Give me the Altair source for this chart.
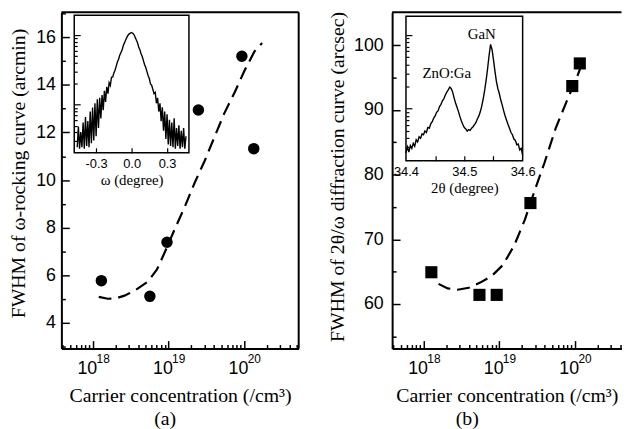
import altair as alt
import numpy as np
import pandas as pd

# ----------------------------- data -----------------------------
# panel (a): omega-rocking-curve FWHM
conc_a = [1.3e18, 5.7e18, 9.6e18, 2.5e19, 9.4e19, 1.35e20]
fwhm_a = [5.78, 5.12, 7.39, 12.94, 15.2, 11.32]
fit_conc_a = [1.2e18, 1.58e18, 2.0e18, 2.63e18, 3.63e18, 5.37e18, 7.08e18, 8.91e18,
              1.2e19, 1.66e19, 2.24e19, 3.02e19, 4.07e19, 5.5e19, 7.59e19, 1.02e20,
              1.38e20, 1.74e20]
fit_fwhm_a = [5.10, 5.02, 5.03, 5.15, 5.37, 5.74, 6.25, 6.95, 7.9, 8.9, 9.9, 10.8,
              11.8, 12.8, 13.7, 14.6, 15.4, 15.75]

# panel (b): 2theta/omega FWHM
conc_b = [1.27e18, 5.5e18, 9.3e18, 2.6e19, 9.3e19, 1.17e20]
fwhm_b = [64.9, 61.4, 61.4, 75.6, 93.7, 97.2]
fit_conc_b = [1.58e18, 2.09e18, 2.82e18, 3.98e18, 5.62e18, 7.94e18, 1.12e19, 1.58e19,
              2.19e19, 2.95e19, 3.98e19, 5.62e19, 7.94e19, 1.05e20, 1.32e20]
fit_fwhm_b = [63.1, 62.4, 62.2, 62.5, 63.3, 64.3, 66.0, 69.0, 73.0, 77.5, 81.8, 87.2,
              91.5, 94.8, 97.9]

# inset (a): rocking curve, omega from -0.46 in 0.01 steps (arb. units)
omega_start, omega_step = -0.46, 0.01
rocking_int = [0.4, 1.9, 0.3, 1.5, 0.4, 2.2, 0.3, 2.6, 0.5, 2.3, 0.4, 3.0, 0.7, 3.3, 0.9,
               3.6, 1.2, 3.9, 1.8, 4.0, 2.5, 4.2, 3.1, 4.5, 3.7, 4.8, 4.3, 5.1, 4.9, 5.5,
               5.5, 5.8, 6.0, 6.3, 6.6, 6.8, 7.1, 7.3, 7.5, 7.8, 8.0, 8.2, 8.4, 8.55, 8.65,
               8.7, 8.75, 8.7, 8.6, 8.4, 8.2, 8.0, 7.7, 7.5, 7.2, 7.0, 6.7, 6.4, 6.2, 5.9,
               5.6, 5.4, 5.0, 4.9, 4.6, 4.3, 4.4, 3.6, 4.0, 3.0, 3.6, 2.3, 3.3, 1.6, 3.0,
               1.0, 2.8, 0.6, 2.4, 0.5, 2.2, 0.4, 2.5, 0.3, 1.8, 0.5, 2.0, 0.3, 1.6, 0.4,
               1.8, 0.3, 1.2]

# inset (b): 2theta scan from 34.4 in 0.0025 steps (arb. units)
tt_start, tt_step = 34.4, 0.0025
xrd_int = [0.55, 0.95, 0.60, 1.05, 0.85, 1.20, 1.00, 1.45, 1.30, 1.65, 1.55, 1.85, 1.80,
           2.05, 1.95, 2.30, 2.25, 2.55, 2.70, 2.95, 3.10, 3.35, 3.45, 3.75, 3.90, 4.15,
           4.30, 4.55, 4.75, 4.90, 5.10, 5.00, 4.75, 4.35, 4.00, 3.70, 3.40, 3.05, 2.75,
           2.50, 2.30, 2.20, 2.05, 2.15, 2.10, 2.25, 2.35, 2.50, 2.65, 2.90, 3.10, 3.40,
           3.80, 4.30, 4.90, 5.60, 6.40, 7.30, 8.05, 7.70, 7.00, 6.20, 5.50, 5.00, 4.65,
           4.20, 3.85, 3.45, 3.10, 2.80, 2.50, 2.25, 1.95, 1.80, 1.50, 1.40, 1.10, 1.15,
           0.75, 0.85, 0.40]

# axis label text pieces
decade_values = [1e18, 1e19, 1e20]
decade_exponents = ["18", "19", "20"]

# ----------------------------- layout constants -----------------------------
SANS = "Liberation Sans"
SERIF = "Liberation Serif"
H = 340
W_A, W_B = 240, 232
XDOM_A = [10 ** 17.585, 10 ** 20.725]
XDOM_B = [10 ** 17.585, 10 ** 20.62]
YDOM_A = [2.93, 17.04]
YDOM_B = [53.1, 105.1]

one = pd.DataFrame({"k": [0]})

EXP_EXPR = ("datum.value < 3e18 ? '%s' : (datum.value < 3e19 ? '%s' : '%s')"
            % tuple(decade_exponents))


def cond(test, big, small):
    return {"condition": {"test": test, "value": big}, "value": small}


def log_ticks(dom):
    out = []
    for d in range(16, 22):
        for k in range(1, 10):
            v = float(k) * 10.0 ** d
            if dom[0] <= v <= dom[1]:
                out.append(v)
    return out


def inset_log_ticks(bases, span):
    out = []
    for b in bases:
        for k in range(1, 10):
            v = round(b + span * np.log10(k), 3)
            if 0.05 < v < 9.95:
                out.append(float(v))
    return out


LOGMAJ = "abs(log(datum.value)/LN10 - round(log(datum.value)/LN10)) < 0.01"


def panel(conc, fwhm, fconc, ffwhm, W, xdom, ydom, ylabels, yticks, ytest, ytitle,
          ytx, yty, ylp, shape, size, right_border, inset):
    pts_df = pd.DataFrame({"conc": conc, "fwhm": fwhm})
    fit_df = pd.DataFrame({"conc": fconc, "fwhm": ffwhm})

    xs = alt.Scale(type="log", domain=xdom, nice=False)
    ys = alt.Scale(domain=ydom, nice=False, zero=False)

    xaxis = alt.Axis(values=decade_values, labelExpr="'10'", labelOffset=-6,
                     ticks=False, domain=True, domainColor="black", domainWidth=2,
                     labelFont=SANS, labelFontSize=18, labelColor="black", labelPadding=11,
                     labelFlush=False, labelOverlap=False, grid=False,
                     title="Carrier concentration (/cm\u00b3)", titleFont=SERIF, titleFontSize=20,
                     titleFontWeight="normal", titleColor="black", titlePadding=9, zindex=1)
    yaxis = alt.Axis(values=ylabels, ticks=False, domain=True, domainColor="black",
                     domainWidth=2, labelFont=SANS, labelFontSize=18, labelColor="black",
                     labelPadding=ylp, grid=False, title=ytitle, titleFont=SERIF,
                     titleFontSize=20, titleFontWeight="normal", titleColor="black",
                     titleX=ytx, titleY=yty, zindex=1)

    pts = alt.Chart(pts_df).mark_point(shape=shape, filled=True, size=size, color="black",
                                       opacity=1).encode(
        x=alt.X("conc:Q", scale=xs, axis=xaxis),
        y=alt.Y("fwhm:Q", scale=ys, axis=yaxis))
    fit = alt.Chart(fit_df).mark_line(color="black", strokeWidth=2.2,
                                      strokeDash=[13, 7]).encode(
        x=alt.X("conc:Q", scale=xs, axis=xaxis),
        y=alt.Y("fwhm:Q", scale=ys, axis=yaxis))
    top = alt.Chart(one).mark_rule(color="black", strokeWidth=2).encode(
        y=alt.YDatum(ydom[1], axis=yaxis))
    main_layers = [pts, fit, top]
    if right_border:
        main_layers.append(alt.Chart(one).mark_rule(color="black", strokeWidth=2).encode(
            x=alt.XDatum(xdom[1], axis=xaxis)))
    main = alt.layer(*main_layers)

    # inward ticks: top-oriented x axis moved to the bottom edge, right-oriented y axis
    # moved to the left edge
    ticks = alt.Chart(pts_df).mark_point(opacity=0).encode(
        x=alt.X("conc:Q", scale=alt.Scale(type="log", domain=xdom, nice=False),
                axis=alt.Axis(orient="top", offset=-H, values=log_ticks(xdom), labels=False,
                              domain=False, ticks=True, tickColor="black", tickWidth=1.5,
                              tickSize=cond(LOGMAJ, 8, 4), title=None, grid=False, zindex=1)),
        y=alt.Y("fwhm:Q", scale=alt.Scale(domain=ydom, nice=False, zero=False),
                axis=alt.Axis(orient="right", offset=-W, values=yticks, labels=False,
                              domain=False, ticks=True, tickColor="black", tickWidth=1.5,
                              tickSize=cond(ytest, 8, 4), title=None, grid=False, zindex=1)))

    # exponent (superscript) labels
    sup = alt.Chart(pts_df).mark_point(opacity=0).encode(
        x=alt.X("conc:Q", scale=alt.Scale(type="log", domain=xdom, nice=False),
                axis=alt.Axis(orient="bottom", values=decade_values, labelExpr=EXP_EXPR,
                              labelOffset=10, ticks=False, domain=False, labelFont=SANS,
                              labelFontSize=12, labelColor="black", labelPadding=5,
                              labelFlush=False, labelOverlap=False, title=None, grid=False,
                              zindex=1)),
        y=alt.Y("fwhm:Q", scale=alt.Scale(domain=ydom, nice=False, zero=False), axis=None))

    # ---- inset ----
    idf = pd.DataFrame({"x": inset["x"], "v": inset["v"]})
    ixdom, ixrange = inset["xdom"], inset["xrange"]
    itop, ibot = inset["ytop"], inset["ybot"]
    ixs = alt.Scale(domain=ixdom, range=ixrange, nice=False, zero=False)
    iys = alt.Scale(domain=[0, 10], range=[ibot, itop], nice=False, zero=False)
    ixaxis = alt.Axis(orient="bottom", offset=-(H - ibot), values=inset["xlabels"],
                      labelExpr=inset["labelExpr"], ticks=False, domain=False,
                      labelFont=SANS, labelFontSize=13, labelColor="black", labelPadding=5,
                      labelFlush=False, labelOverlap=False, grid=False,
                      title=inset["title"], titleFont=SERIF, titleFontSize=15,
                      titleFontWeight="normal", titleColor="black", titlePadding=2, zindex=1)
    iline = alt.Chart(idf).mark_line(color="black", strokeWidth=1.4).encode(
        x=alt.X("x:Q", scale=ixs, axis=ixaxis),
        y=alt.Y("v:Q", scale=iys, axis=None))
    frame = alt.Chart(one).mark_rect(fill="white", fillOpacity=0, stroke="black",
                                     strokeWidth=1.5).encode(
        x=alt.XDatum(ixdom[0], scale=ixs, axis=ixaxis), x2=alt.X2Datum(ixdom[1]),
        y=alt.YDatum(0, scale=iys, axis=None), y2=alt.Y2Datum(10))
    ilayers = [iline, frame]
    for (txt, tx, ty) in inset.get("texts", []):
        ilayers.append(alt.Chart(one).mark_text(text=txt, font=SERIF, fontSize=15,
                                                color="black").encode(
            x=alt.XDatum(tx, axis=ixaxis), y=alt.YDatum(ty, axis=None)))
    ins = alt.layer(*ilayers)

    iticks = alt.Chart(idf).mark_point(opacity=0).encode(
        x=alt.X("x:Q", scale=alt.Scale(domain=ixdom, range=ixrange, nice=False, zero=False),
                axis=alt.Axis(orient="top", offset=-ibot, values=inset["xticks"], labels=False,
                              domain=False, ticks=True, tickColor="black", tickWidth=1.2,
                              tickSize=5, title=None, grid=False, zindex=1)),
        y=alt.Y("v:Q", scale=alt.Scale(domain=[0, 10], range=[ibot, itop], nice=False,
                                        zero=False),
                axis=alt.Axis(orient="right", offset=ixrange[0] - W, values=inset["yticks"],
                              labels=False, domain=False, ticks=True, tickColor="black",
                              tickWidth=1.2, tickSize=cond(inset["ymajtest"], 6, 3),
                              title=None, grid=False, zindex=1)))

    return alt.layer(main, ticks, sup, ins, iticks).resolve_scale(
        x="independent", y="independent").properties(width=W, height=H)


inset_a = dict(
    x=[round(omega_start + omega_step * i, 4) for i in range(len(rocking_int))],
    v=rocking_int, xdom=[-0.485, 0.485], xrange=[13, 129], ytop=3, ybot=142,
    xlabels=[-0.3, 0.0, 0.3], xticks=[-0.3, 0.0, 0.3],
    labelExpr="replace(format(datum.value, '.1f'), '\u2212', '-')",
    title="\u03c9 (degree)",
    yticks=inset_log_ticks([-1.56, 3.5, 8.56], 5.06),
    ymajtest="datum.value == 3.5 || datum.value == 8.56",
)
inset_b = dict(
    x=[round(tt_start + tt_step * i, 5) for i in range(len(xrd_int))],
    v=xrd_int, xdom=[34.4, 34.6], xrange=[14, 132], ytop=4, ybot=150,
    xlabels=[34.4, 34.5, 34.6], xticks=[34.45, 34.5, 34.55],
    labelExpr="format(datum.value, '.1f')",
    title="2\u03b8 (degree)",
    yticks=inset_log_ticks([-1.5, 3.6, 8.7], 5.1),
    ymajtest="datum.value == 3.6 || datum.value == 8.7",
    texts=[("ZnO:Ga", 34.47, 6.05), ("GaN", 34.53, 8.8)],
)

panel_a = panel(conc_a, fwhm_a, fit_conc_a, fit_fwhm_a, W_A, XDOM_A, YDOM_A,
                [4, 6, 8, 10, 12, 14, 16], list(range(3, 18)), "datum.value % 2 == 0",
                "FWHM of \u03c9-rocking curve (arcmin)", -33.5, 162.5, 6,
                "circle", 135, True, inset_a)
panel_b = panel(conc_b, fwhm_b, fit_conc_b, fit_fwhm_b, W_B, XDOM_B, YDOM_B,
                [60, 70, 80, 90, 100], list(range(55, 105, 5)), "datum.value % 10 == 0",
                "FWHM of 2\u03b8/\u03c9 diffraction curve (arcsec)", -45.5, 166, 9,
                "square", 150, False, inset_b)

panel_a = panel_a.properties(title=alt.TitleParams(
    "(a)", orient="bottom", anchor="middle", frame="group", dx=-15, offset=3,
    font=SERIF, fontSize=20, fontWeight="normal", color="black"))
panel_b = panel_b.properties(title=alt.TitleParams(
    "(b)", orient="bottom", anchor="middle", frame="group", dx=-40, offset=3,
    font=SERIF, fontSize=20, fontWeight="normal", color="black"))

chart = alt.hconcat(panel_a, panel_b, spacing=94.5, bounds="flush").properties(
    padding={"left": 0, "top": 1, "right": 0, "bottom": 0},
    background="white",
).configure_view(strokeWidth=0)

chart.save("out.html", embed_options={"renderer": "svg", "actions": False})
